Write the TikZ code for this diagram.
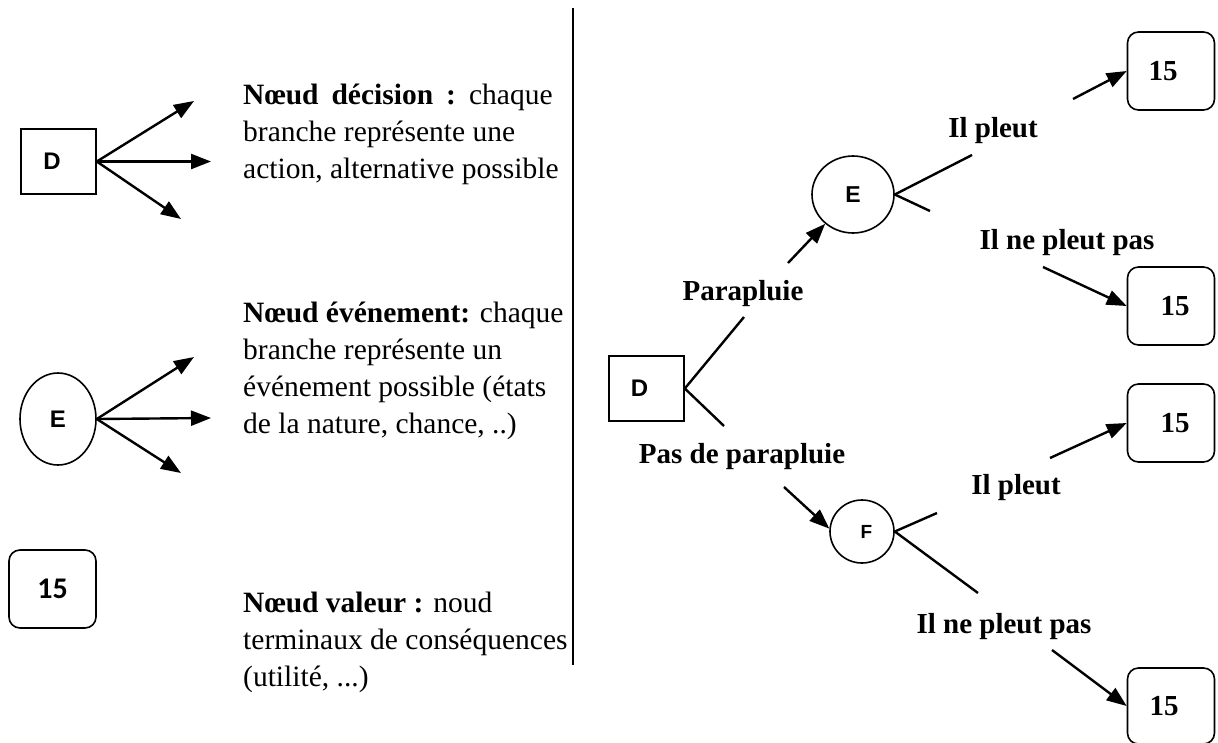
\documentclass[tikz,border=0pt]{standalone}
\usepackage{fontspec}
\setmainfont{Liberation Serif}
\newfontfamily\lettersf{Liberation Sans}
\newfontfamily\valuesf{Carlito}
\usetikzlibrary{arrows.meta,shapes.geometric}

\begin{document}
\begin{tikzpicture}[x=1pt,y=-1pt,
  branch/.style={line width=2.4pt},
  arr/.style={branch,-{Triangle[length=20pt,width=15pt]}},
  decbox/.style={draw,line width=1.6pt,minimum width=75pt,minimum height=65pt,inner sep=0pt,
    font=\lettersf\bfseries\fontsize{24}{24}\selectfont},
  evnode/.style={draw,ellipse,line width=1.6pt,inner sep=0pt,
    font=\lettersf\bfseries\fontsize{24}{24}\selectfont},
  valbox/.style={draw,rounded corners=11pt,line width=1.6pt,minimum width=87pt,minimum height=78pt,inner sep=0pt,
    font=\bfseries\fontsize{29}{29}\selectfont},
  legend/.style={anchor=north west,inner sep=0pt,align=left,font=\fontsize{29.5}{37}\selectfont},
  lbl/.style={anchor=base,inner sep=0pt,font=\bfseries\fontsize{29}{29}\selectfont}
]
\useasboundingbox (0,0) rectangle (1218,742);

% ---------- legend: decision node ----------
\node[decbox] (lD) at (58.5,161.5) {D\hspace*{13pt}};
\coordinate (lD1) at (194,101);
\coordinate (lD2) at (211,161.5);
\coordinate (lD3) at (181,219);
\draw[arr] (lD.east) -- (lD1);
\draw[arr] (lD.east) -- (lD2);
\draw[arr] (lD.east) -- (lD3);
\node[legend] (tD) at (243,78) {\rule{0pt}{26pt}{\bfseries Nœud\hspace{13pt}décision\hspace{13pt}:}\hspace{13pt}chaque\\branche représente une\\action, alternative possible};

% ---------- legend: event node ----------
\node[evnode,minimum width=76pt,minimum height=92pt] (lE) at (58,419) {E};
\coordinate (lE1) at (194,357);
\coordinate (lE2) at (211,418);
\coordinate (lE3) at (181,473);
\draw[arr] (lE.east) -- (lE1);
\draw[arr] (lE.east) -- (lE2);
\draw[arr] (lE.east) -- (lE3);
\node[legend] (tE) at (243,296) {\rule{0pt}{26pt}{\bfseries Nœud événement:} chaque\\branche représente un\\événement possible (états\\de la nature, chance, ..)};

% ---------- legend: value node ----------
\node[valbox,font=\valuesf\bfseries\fontsize{30}{30}\selectfont] (lV) at (52.5,589) {15};
\node[legend] (tV) at (243,586) {\rule{0pt}{26pt}{\bfseries Nœud valeur :} noud\\terminaux de conséquences\\(utilité, ...)};

% ---------- separator ----------
\coordinate (sepTop) at (573,8);
\coordinate (sepBot) at (573,665);
\draw[line width=2pt] (sepTop) -- (sepBot);

% ---------- decision tree ----------
\node[decbox] (D) at (646.5,388.5) {D\hspace*{14pt}};
\node[evnode,minimum width=82pt,minimum height=77pt,font=\lettersf\bfseries\fontsize{23}{23}\selectfont] (E) at (853,194.5) {E};
\node[evnode,minimum width=64pt,minimum height=63pt,font=\lettersf\bfseries\fontsize{19}{19}\selectfont] (F) at (862,531.5) {\hspace*{9pt}F};

\node[valbox] (V1) at (1171,71) {15\hspace*{16pt}};
\node[valbox] (V2) at (1171,306) {\hspace*{8pt}15};
\node[valbox] (V3) at (1171,423) {\hspace*{8pt}15};
\node[valbox,minimum height=76pt] (V4) at (1171,706) {15\hspace*{14pt}};

% branch labels
\node[lbl] (lPara) at (743,300) {Parapluie};
\node[lbl] (lPas) at (742,463) {Pas de parapluie};
\node[lbl] (lP1) at (993,137) {Il pleut};
\node[lbl] (lN1) at (1067,249) {Il ne pleut pas};
\node[lbl] (lP2) at (1016,494) {Il pleut};
\node[lbl] (lN2) at (1004,633) {Il ne pleut pas};

% D -> E (umbrella)
\coordinate (a1) at (744,317);
\coordinate (a2) at (788,263);
\draw[branch] (D.east) -- (a1);
\draw[arr] (a2) -- (E);

% D -> F (no umbrella)
\coordinate (b1) at (724,426);
\coordinate (b2) at (784,487);
\draw[branch] (D.east) -- (b1);
\draw[arr] (b2) -- (F.175);

% E -> values
\coordinate (c1) at (972,155);
\coordinate (c2) at (1073,99);
\draw[branch] (E.east) -- (c1);
\draw[arr] (c2) -- (V1.west);
\coordinate (d1) at (930,211);
\coordinate (d2) at (1043,267);
\draw[branch] (E.east) -- (d1);
\draw[arr] (d2) -- (V2.west);

% F -> values
\coordinate (e1) at (937,513);
\coordinate (e2) at (1050,458);
\draw[branch] (F.east) -- (e1);
\draw[arr] (e2) -- (V3.west);
\coordinate (f1) at (978,593);
\coordinate (f2) at (1052,650);
\draw[branch] (F.east) -- (f1);
\draw[arr] (f2) -- (V4.west);
\end{tikzpicture}
\end{document}
